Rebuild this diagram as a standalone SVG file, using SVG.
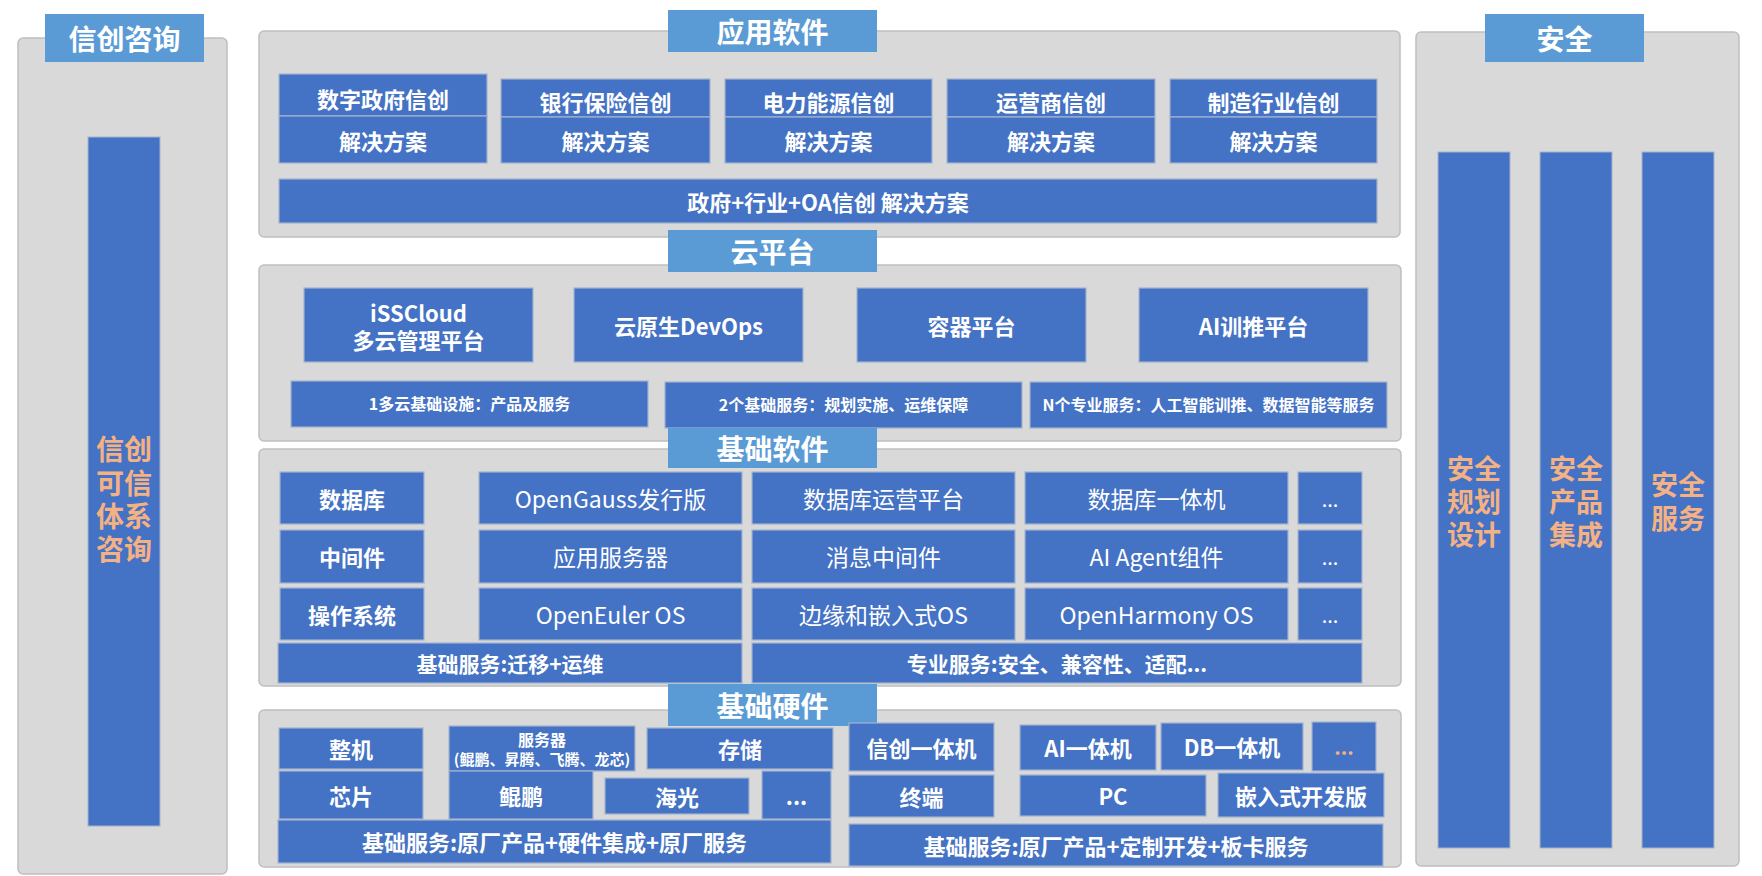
<svg xmlns="http://www.w3.org/2000/svg" width="1762" height="876" viewBox="0 0 1762 876">
<style>
.panel{fill:#D9D9D9;stroke:#BFBFBF;stroke-width:1.5}
.hdr{fill:#5B9BD5}
.box{fill:#4472C4;stroke:#A3B3CF;stroke-width:1.2}
.col{fill:#4472C4;stroke:#A6B4CC;stroke-width:1}
text{font-family:"Noto Sans CJK SC","Microsoft YaHei","Noto Sans",sans-serif;fill:#FFFFFF;text-anchor:middle;dominant-baseline:central}
.b{font-weight:700}
.h{font-weight:700;font-size:28px}
.s22{font-size:22px}
.s21{font-size:21px}
.s16{font-size:16px}
.s15{font-size:15px}
.r{font-weight:400;font-size:23px}
.o{fill:#F4B183;font-weight:700;font-size:28px}
.o27{fill:#F4B183;font-weight:700;font-size:27px}
</style>
<rect width="1762" height="876" fill="#FFFFFF"/>

<!-- Left: 信创咨询 -->
<g id="xinchuang-consult">
<rect class="panel" x="18" y="38" width="209" height="836" rx="5"/>
<rect class="hdr" x="45" y="14" width="159" height="48"/>
<text class="h" x="124.5" y="38">信创咨询</text>
<rect class="col" x="88" y="137" width="72" height="689"/>
<text class="o" x="124" y="448"><tspan x="124" y="448">信创</tspan><tspan x="124" y="482">可信</tspan><tspan x="124" y="515">体系</tspan><tspan x="124" y="548">咨询</tspan></text>
</g>

<!-- Right: 安全 -->
<g id="security">
<rect class="panel" x="1416" y="32" width="323" height="834" rx="5"/>
<rect class="hdr" x="1485" y="14" width="159" height="48"/>
<text class="h" x="1564.5" y="38">安全</text>
<rect class="col" x="1438" y="152" width="72" height="696"/>
<rect class="col" x="1540" y="152" width="72" height="696"/>
<rect class="col" x="1642" y="152" width="72" height="696"/>
<text class="o27" x="1474" y="467"><tspan x="1474" y="467">安全</tspan><tspan x="1474" y="500">规划</tspan><tspan x="1474" y="533">设计</tspan></text>
<text class="o27" x="1576" y="467"><tspan x="1576" y="467">安全</tspan><tspan x="1576" y="500">产品</tspan><tspan x="1576" y="533">集成</tspan></text>
<text class="o27" x="1678" y="483"><tspan x="1678" y="483">安全</tspan><tspan x="1678" y="517">服务</tspan></text>
</g>

<!-- 应用软件 -->
<g id="app-software">
<rect class="panel" x="259" y="31" width="1141" height="206" rx="5"/>
<rect class="hdr" x="668" y="10" width="209" height="42"/>
<text class="h" x="772.5" y="31">应用软件</text>
<rect class="box" x="279" y="74" width="208" height="42"/>
<rect class="box" x="279" y="116" width="208" height="47"/>
<text class="b s22" x="383" y="98"><tspan x="383" y="98">数字政府信创</tspan><tspan x="383" y="140">解决方案</tspan></text>
<rect class="box" x="501" y="79" width="209" height="38"/>
<rect class="box" x="501" y="117" width="209" height="46"/>
<text class="b s22" x="605.5" y="101"><tspan x="605.5" y="101">银行保险信创</tspan><tspan x="605.5" y="140">解决方案</tspan></text>
<rect class="box" x="725" y="79" width="207" height="38"/>
<rect class="box" x="725" y="117" width="207" height="46"/>
<text class="b s22" x="828.5" y="101"><tspan x="828.5" y="101">电力能源信创</tspan><tspan x="828.5" y="140">解决方案</tspan></text>
<rect class="box" x="947" y="79" width="208" height="38"/>
<rect class="box" x="947" y="117" width="208" height="46"/>
<text class="b s22" x="1051" y="101"><tspan x="1051" y="101">运营商信创</tspan><tspan x="1051" y="140">解决方案</tspan></text>
<rect class="box" x="1170" y="79" width="207" height="38"/>
<rect class="box" x="1170" y="117" width="207" height="46"/>
<text class="b s22" x="1273.5" y="101"><tspan x="1273.5" y="101">制造行业信创</tspan><tspan x="1273.5" y="140">解决方案</tspan></text>
<rect class="box" x="279" y="179" width="1098" height="44"/>
<text class="b s22" x="828" y="201">政府+行业+OA信创 解决方案</text>
</g>

<!-- 云平台 -->
<g id="cloud-platform">
<rect class="panel" x="259" y="265" width="1142" height="176" rx="5"/>
<rect class="hdr" x="668" y="230" width="209" height="42"/>
<text class="h" x="772.5" y="251">云平台</text>
<rect class="box" x="304" y="288" width="229" height="74"/>
<text class="b s22" x="418.5" y="312"><tspan x="418.5" y="312">iSSCloud</tspan><tspan x="418.5" y="339">多云管理平台</tspan></text>
<rect class="box" x="574" y="288" width="229" height="74"/>
<text class="b s22" x="688.5" y="325">云原生DevOps</text>
<rect class="box" x="857" y="288" width="229" height="74"/>
<text class="b s22" x="971.5" y="325">容器平台</text>
<rect class="box" x="1139" y="288" width="229" height="74"/>
<text class="b s22" x="1253.5" y="325">AI训推平台</text>
<rect class="box" x="291" y="381" width="357" height="46"/>
<text class="b s16" x="469.5" y="403">1多云基础设施：产品及服务</text>
<rect class="box" x="665" y="382" width="357" height="46"/>
<text class="b s16" x="843.5" y="404">2个基础服务：规划实施、运维保障</text>
<rect class="box" x="1030" y="382" width="357" height="46"/>
<text class="b s16" x="1208.5" y="404">N个专业服务：人工智能训推、数据智能等服务</text>
</g>

<!-- 基础软件 -->
<g id="basic-software">
<rect class="panel" x="259" y="449" width="1142" height="237" rx="5"/>
<rect class="hdr" x="668" y="428" width="209" height="40"/>
<text class="h" x="772.5" y="448">基础软件</text>
<rect class="box" x="280" y="472" width="144" height="52"/>
<text class="b s22" x="352" y="498">数据库</text>
<rect class="box" x="280" y="530" width="144" height="53"/>
<text class="b s22" x="352" y="556">中间件</text>
<rect class="box" x="280" y="588" width="144" height="52"/>
<text class="b s22" x="352" y="614">操作系统</text>
<rect class="box" x="479" y="472" width="263" height="52"/>
<text class="r" x="610.5" y="498">OpenGauss发行版</text>
<rect class="box" x="479" y="530" width="263" height="53"/>
<text class="r" x="610.5" y="556">应用服务器</text>
<rect class="box" x="479" y="588" width="263" height="52"/>
<text class="r" x="610.5" y="614">OpenEuler OS</text>
<rect class="box" x="752" y="472" width="263" height="52"/>
<text class="r" x="883.5" y="498">数据库运营平台</text>
<rect class="box" x="752" y="530" width="263" height="53"/>
<text class="r" x="883.5" y="556">消息中间件</text>
<rect class="box" x="752" y="588" width="263" height="52"/>
<text class="r" x="883.5" y="614">边缘和嵌入式OS</text>
<rect class="box" x="1025" y="472" width="263" height="52"/>
<text class="r" x="1156.5" y="498">数据库一体机</text>
<rect class="box" x="1025" y="530" width="263" height="53"/>
<text class="r" x="1156.5" y="556">AI Agent组件</text>
<rect class="box" x="1025" y="588" width="263" height="52"/>
<text class="r" x="1156.5" y="614">OpenHarmony OS</text>
<rect class="box" x="1298" y="472" width="64" height="52"/>
<text class="r" style="font-size:20px" x="1330" y="498">...</text>
<rect class="box" x="1298" y="530" width="64" height="53"/>
<text class="r" style="font-size:20px" x="1330" y="556">...</text>
<rect class="box" x="1298" y="588" width="64" height="52"/>
<text class="r" style="font-size:20px" x="1330" y="614">...</text>
<rect class="box" x="278" y="643" width="464" height="40"/>
<text class="b s21" x="510" y="663">基础服务:迁移+运维</text>
<rect class="box" x="752" y="643" width="610" height="40"/>
<text class="b s21" x="1057" y="663">专业服务:安全、兼容性、适配...</text>
</g>

<!-- 基础硬件 -->
<g id="basic-hardware">
<rect class="panel" x="259" y="710" width="1142" height="157" rx="5"/>
<rect class="hdr" x="668" y="684" width="209" height="42"/>
<text class="h" x="772.5" y="705">基础硬件</text>
<rect class="box" x="279" y="728" width="144" height="41"/>
<text class="b s22" x="351" y="748">整机</text>
<rect class="box" x="279" y="771" width="144" height="48"/>
<text class="b s22" x="351" y="795">芯片</text>
<rect class="box" x="449" y="726" width="186" height="45"/>
<text class="b s15" x="542" y="739"><tspan x="542" y="739" style="font-size:16px">服务器</tspan><tspan x="542" y="758">(鲲鹏、昇腾、飞腾、龙芯)</tspan></text>
<rect class="box" x="449" y="771" width="144" height="48"/>
<text class="b s22" x="521" y="795">鲲鹏</text>
<rect class="box" x="605" y="778" width="144" height="36"/>
<text class="b s22" x="677" y="796">海光</text>
<rect class="box" x="762" y="771" width="69" height="48"/>
<text class="b s22" x="796.5" y="795">...</text>
<rect class="box" x="647" y="728" width="186" height="41"/>
<text class="b s22" x="740" y="748">存储</text>
<rect class="box" x="278" y="820" width="553" height="43"/>
<text class="b s22" x="554.5" y="841">基础服务:原厂产品+硬件集成+原厂服务</text>
<rect class="box" x="849" y="723" width="145" height="48"/>
<text class="b s22" x="921.5" y="747">信创一体机</text>
<rect class="box" x="849" y="775" width="145" height="42"/>
<text class="b s22" x="921.5" y="796">终端</text>
<rect class="box" x="1020" y="725" width="136" height="45"/>
<text class="b s22" x="1088" y="747">AI一体机</text>
<rect class="box" x="1161" y="723" width="142" height="47"/>
<text class="b s22" x="1232" y="746">DB一体机</text>
<rect class="box" x="1312" y="722" width="64" height="49"/>
<text class="b" style="fill:#F4B183;font-size:20px" x="1344" y="746">...</text>
<rect class="box" x="1020" y="775" width="186" height="41"/>
<text class="b s22" x="1113" y="795">PC</text>
<rect class="box" x="1218" y="773" width="166" height="44"/>
<text class="b s22" x="1301" y="795">嵌入式开发版</text>
<rect class="box" x="849" y="824" width="534" height="42"/>
<text class="b s22" x="1116" y="845">基础服务:原厂产品+定制开发+板卡服务</text>
</g>

<g id="connectors"/>
</svg>
